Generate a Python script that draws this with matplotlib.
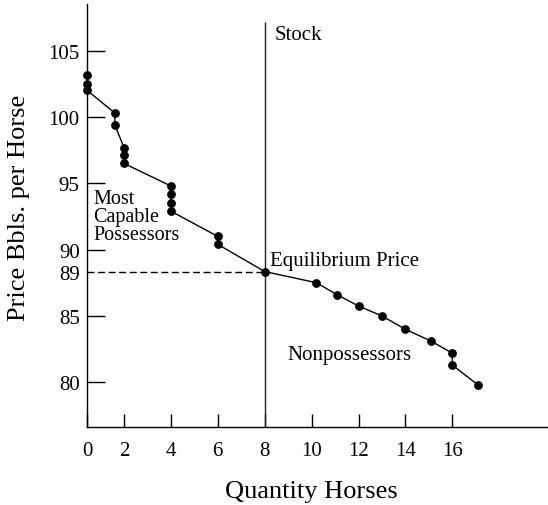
import numpy as np
import matplotlib
matplotlib.use("Agg")
import matplotlib.pyplot as plt

plt.rcParams['font.family'] = ['Liberation Serif', 'DejaVu Serif']

# ---- data ----
quantity = [0, 0, 0, 1.5, 1.5, 2, 2, 2, 4, 4, 4, 4, 6, 6, 8,
            10.2, 11.1, 12, 13, 14, 15.1, 16, 16, 17.1]
price = [103.2, 102.5, 102.0, 100.3, 99.4, 97.7, 97.15, 96.5,
         94.8, 94.2, 93.55, 92.9, 91.0, 90.4, 89.0,
         88.0, 86.9, 85.9, 85.0, 84.0, 83.1, 82.2, 81.3, 79.8]
stock = 8
equilibrium_price = 89
x_ticks = [0, 2, 4, 6, 8, 10, 12, 14, 16]
y_ticks = [80, 85, 90, 95, 100, 105]

# hand-drawn (non-uniform) scales of the original figure
def xf(x):
    x = np.asarray(x, dtype=float)
    return np.where(x < 2, 0.435 + x * 0.7825, x)

def xi(v):
    v = np.asarray(v, dtype=float)
    return np.where(v < 2, (v - 0.435) / 0.7825, v)

_yk = [-1000, 85, 89, 90, 1000]
_yv = [-1000, 85, 88.35, 90, 1000]

def yf(y):
    return np.interp(y, _yk, _yv)

def yi(v):
    return np.interp(v, _yv, _yk)

fig = plt.figure(figsize=(5.48, 5.06), dpi=100)
ax = fig.add_axes([87.3 / 548, 1 - 428.3 / 506, 1 - 87.3 / 548, (428.3 - 5) / 506])
ax.set_xscale('function', functions=(xf, xi))
ax.set_yscale('function', functions=(yf, yi))
ax.set_xlim(0, 20.08)
ybot = float(yi(76.61))
ax.set_ylim(ybot, float(yi(108.52)))

# supply curve
ax.plot(quantity, price, color='black', lw=1.0, marker='o', ms=5.3,
        zorder=3, clip_on=False)
# stock line
ax.vlines(stock, ybot, 107.2, color='#222222', lw=1.0)
# equilibrium dashed line
ax.hlines(equilibrium_price, 0, stock, color='black', lw=1.0,
          linestyles=(0, (5, 2.6)))

for s in ['top', 'right']:
    ax.spines[s].set_visible(False)
for s in ['left', 'bottom']:
    ax.spines[s].set_linewidth(1.0)

ax.set_xticks(x_ticks)
ax.set_xticklabels([str(t) for t in x_ticks])
ax.set_yticks(y_ticks)
ax.set_yticklabels([str(t) for t in y_ticks])
ax.set_yticks([equilibrium_price], minor=True)
ax.set_yticklabels([str(equilibrium_price)], minor=True)
ax.xaxis.set_minor_locator(matplotlib.ticker.NullLocator())
ax.tick_params(axis='x', direction='in', length=9.4, width=1.0,
               labelsize=15, pad=10)
ax.tick_params(axis='y', which='major', direction='in', length=13, width=1.0,
               labelsize=15, pad=5.5)
ax.tick_params(axis='y', which='minor', direction='in', length=0,
               labelsize=15, pad=5.5)

ax.text(8.44, 105.88, 'Stock', fontsize=15, ha='left', va='baseline')
ax.text(8.23, 89.28, 'Equilibrium Price', fontsize=15, ha='left', va='baseline')
ax.text(8.96, 81.78, 'Nonpossessors', fontsize=15, ha='left', va='baseline')
ax.text(0.33, 94.6, 'Most\nCapable\nPossessors', fontsize=14.5, ha='left',
        va='top', linespacing=0.95)

fig.text(311.5 / 548, 1 - 492 / 506, 'Quantity Horses', fontsize=19,
         ha='center', va='center')
fig.text(19 / 548, 1 - 208 / 506, 'Price Bbls. per Horse', fontsize=19,
         ha='center', va='center', rotation=90)

fig.savefig('out.png', dpi=100)
